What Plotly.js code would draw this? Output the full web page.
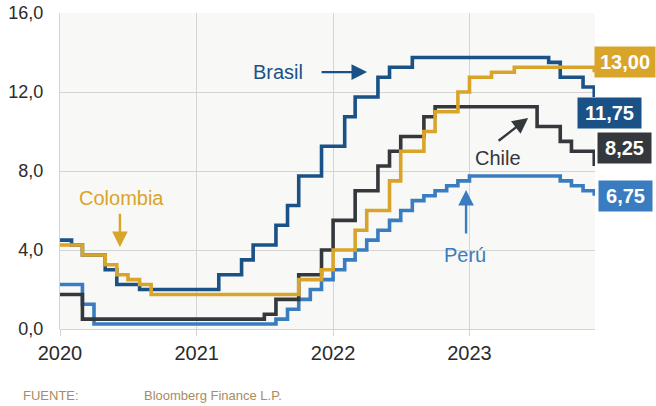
<!DOCTYPE html>
<html>
<head>
<meta charset="utf-8">
<script src="https://cdn.plot.ly/plotly-3.0.1.min.js"></script>
<style>
  html, body { margin: 0; padding: 0; background: #ffffff; }
  #chart { width: 656px; height: 406px; }
</style>
</head>
<body>
<div id="chart"></div>
<script>
// Tasas de política monetaria, fin de mes (ene-2020 a dic-2023)
const years = ['2020', '2021', '2022', '2023'];

const brasil = [
  4.5, 4.25, 3.75, 3.75, 3.0, 2.25, 2.25, 2.0, 2.0, 2.0, 2.0, 2.0,
  2.0, 2.0, 2.75, 2.75, 3.5, 4.25, 4.25, 5.25, 6.25, 7.75, 7.75, 9.25,
  9.25, 10.75, 11.75, 11.75, 12.75, 13.25, 13.25, 13.75, 13.75, 13.75, 13.75, 13.75,
  13.75, 13.75, 13.75, 13.75, 13.75, 13.75, 13.75, 13.5, 12.75, 12.75, 12.25, 11.75
];
const colombia = [
  4.25, 4.25, 3.75, 3.75, 3.25, 2.75, 2.5, 2.25, 1.75, 1.75, 1.75, 1.75,
  1.75, 1.75, 1.75, 1.75, 1.75, 1.75, 1.75, 1.75, 1.75, 2.5, 2.5, 3.0,
  4.0, 4.0, 5.0, 6.0, 6.0, 7.5, 9.0, 9.0, 10.0, 11.0, 11.0, 12.0,
  12.75, 12.75, 13.0, 13.0, 13.25, 13.25, 13.25, 13.25, 13.25, 13.25, 13.25, 13.0
];
const chile = [
  1.75, 1.75, 0.5, 0.5, 0.5, 0.5, 0.5, 0.5, 0.5, 0.5, 0.5, 0.5,
  0.5, 0.5, 0.5, 0.5, 0.5, 0.5, 0.75, 1.5, 1.5, 2.75, 2.75, 4.0,
  5.5, 5.5, 7.0, 7.0, 8.25, 9.0, 9.75, 9.75, 10.75, 11.25, 11.25, 11.25,
  11.25, 11.25, 11.25, 11.25, 11.25, 11.25, 10.25, 10.25, 9.5, 9.0, 9.0, 8.25
];
const peru = [
  2.25, 2.25, 1.25, 0.25, 0.25, 0.25, 0.25, 0.25, 0.25, 0.25, 0.25, 0.25,
  0.25, 0.25, 0.25, 0.25, 0.25, 0.25, 0.25, 0.5, 1.0, 1.5, 2.0, 2.5,
  3.0, 3.5, 4.0, 4.5, 5.0, 5.5, 6.0, 6.5, 6.75, 7.0, 7.25, 7.5,
  7.75, 7.75, 7.75, 7.75, 7.75, 7.75, 7.75, 7.75, 7.5, 7.25, 7.0, 6.75
];
const yTicks = [0, 4, 8, 12, 16];

// first day of each month, one per value
const months = [];
years.forEach(y => {
  for (let m = 1; m <= 12; m++) months.push(y + '-' + String(m).padStart(2, '0') + '-01');
});

const COLORS = {
  brasil: '#1a5186',
  colombia: '#d9a42a',
  chile: '#34373b',
  peru: '#3a7cc0'
};
const FONT = '"Liberation Sans", Arial, sans-serif';

function stepTrace(values, color) {
  return {
    x: months, y: values, type: 'scatter', mode: 'lines',
    line: { shape: 'hv', color: color, width: 3.6 },
    hoverinfo: 'skip'
  };
}

const traces = [
  stepTrace(peru, COLORS.peru),
  stepTrace(chile, COLORS.chile),
  stepTrace(brasil, COLORS.brasil),
  stepTrace(colombia, COLORS.colombia)
];

function fmt(v) { return v.toFixed(2).replace('.', ','); }
const last = a => a[a.length - 1];

function valueBox(values, color, xshift, yshift, w) {
  return {
    xref: 'paper', yref: 'y', x: 1, y: last(values),
    xanchor: 'left', yanchor: 'middle', xshift: xshift, yshift: yshift,
    text: '<b>' + fmt(last(values)) + '</b>', showarrow: false,
    bgcolor: color, borderpad: 4, width: w, height: 22,
    font: { family: FONT, size: 20, color: '#ffffff' }
  };
}

function label(text, x, y, color) {
  return {
    xref: 'paper', yref: 'paper', x: x, y: y, text: text, showarrow: false,
    xanchor: 'center', yanchor: 'middle',
    font: { family: FONT, size: 20, color: color }
  };
}

function arrow(x, y, ax, ay, color) {
  return {
    xref: 'paper', yref: 'paper', x: x, y: y, ax: ax, ay: ay,
    axref: 'pixel', ayref: 'pixel', text: '', showarrow: true,
    arrowhead: 2, arrowsize: 1.3, arrowwidth: 2.4, arrowcolor: color
  };
}

const annotations = [
  label('Brasil', 0.408, 0.812, COLORS.brasil),
  arrow(0.574, 0.813, -47, 0, COLORS.brasil),
  label('Colombia', 0.115, 0.414, COLORS.colombia),
  arrow(0.112, 0.259, 0, -35, COLORS.colombia),
  label('Chile', 0.819, 0.542, COLORS.chile),
  arrow(0.875, 0.668, -31, 24, COLORS.chile),
  label('Perú', 0.757, 0.235, COLORS.peru),
  arrow(0.759, 0.440, 0, 45, COLORS.peru),
  valueBox(colombia, COLORS.colombia, -1, 10, 52),
  valueBox(brasil, COLORS.brasil, -18, -16, 55),
  valueBox(chile, COLORS.chile, 2, 18, 45),
  valueBox(peru, COLORS.peru, 3, 0, 45),
  {
    xref: 'paper', yref: 'paper', x: -0.072, y: -0.209, xanchor: 'left', yanchor: 'middle',
    text: 'FUENTE:', showarrow: false,
    font: { family: FONT, size: 13, color: '#a98c5b' }
  },
  {
    xref: 'paper', yref: 'paper', x: 0.153, y: -0.209, xanchor: 'left', yanchor: 'middle',
    text: 'Bloomberg Finance L.P.', showarrow: false,
    font: { family: FONT, size: 13, color: '#a98c5b' }
  }
];

const layout = {
  width: 656, height: 406,
  margin: { l: 60, r: 61, t: 13, b: 77, pad: 0 },
  paper_bgcolor: '#ffffff',
  plot_bgcolor: '#f8f8f6',
  separators: ',.',
  showlegend: false,
  font: { family: FONT, color: '#2b2b2b' },
  xaxis: {
    type: 'date',
    range: ['2020-01-01', '2023-12-03'],
    tickvals: years.map(y => y + '-01-01'),
    ticktext: years,
    tickfont: { family: FONT, size: 20, color: '#2b2b2b' },
    showgrid: true, gridcolor: '#d4d4d4', gridwidth: 1,
    ticks: 'outside', ticklen: 6, tickcolor: '#d4d4d4', tickwidth: 1,
    showline: false, zeroline: false,
    fixedrange: true
  },
  yaxis: {
    range: [0, 16],
    tickvals: yTicks,
    tickformat: '.1f',
    tickfont: { family: FONT, size: 18, color: '#2b2b2b' },
    showgrid: true, gridcolor: '#d4d4d4', gridwidth: 1,
    zeroline: true, zerolinecolor: '#d4d4d4', zerolinewidth: 1,
    showline: true, linecolor: '#d4d4d4', linewidth: 1,
    ticks: '', ticklabelstandoff: 12,
    fixedrange: true
  },
  annotations: annotations
};

Plotly.newPlot('chart', traces, layout, { displayModeBar: false, staticPlot: true });
</script>
</body>
</html>
